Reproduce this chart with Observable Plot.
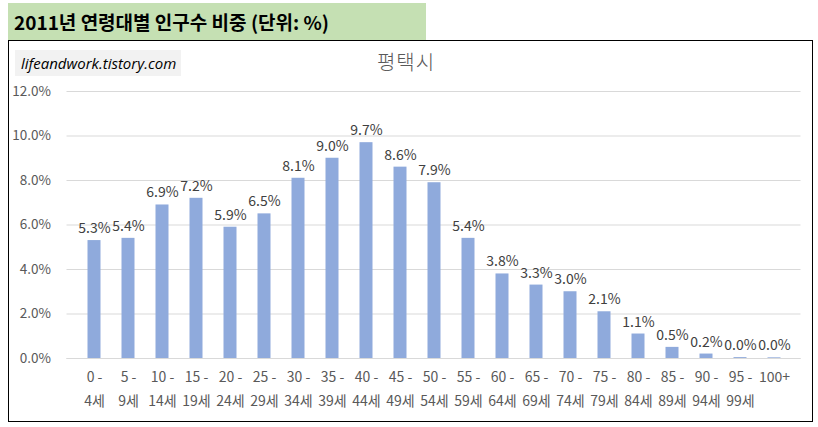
<!DOCTYPE html>
<html><head><meta charset="utf-8">
<script src="https://cdn.jsdelivr.net/npm/d3@7"></script>
<script src="https://cdn.jsdelivr.net/npm/@observablehq/plot@0.6"></script>
<style>
html,body{margin:0;padding:0;background:#fff;}
#wrap{position:relative;width:818px;height:427px;font-family:"Noto Sans CJK KR","Noto Sans",sans-serif;}
#title{position:absolute;left:8px;top:3px;width:418px;height:38px;background:#c5e0b3;font-weight:bold;font-size:19px;line-height:38px;padding-left:6px;box-sizing:border-box;color:#000;}
#frame{position:absolute;left:8px;top:40px;width:805px;height:382px;border:1px solid #000;box-sizing:border-box;}
#wm{position:absolute;left:15px;top:50px;width:166px;height:26px;background:#f2f2f2;font-style:italic;font-size:15px;line-height:26px;padding-left:6px;box-sizing:border-box;color:#000;font-family:"Open Sans","Noto Sans",sans-serif;}
#ctitle{position:absolute;left:0;width:812px;top:48px;text-align:center;font-size:20px;line-height:28px;color:#595959;font-weight:300;letter-spacing:1px;}
#chart{position:absolute;left:8px;top:80px;}
</style></head><body>
<div id="wrap">
<div id="title">2011년 연령대별 인구수 비중 (단위: %)</div>
<div id="frame"></div>
<div id="wm">lifeandwork.tistory.com</div>
<div id="ctitle">평택시</div>
<div id="chart"></div>
</div>
<script>
const ageGroups = ["0 - 4세","5 - 9세","10 - 14세","15 - 19세","20 - 24세","25 - 29세","30 - 34세","35 - 39세","40 - 44세","45 - 49세","50 - 54세","55 - 59세","60 - 64세","65 - 69세","70 - 74세","75 - 79세","80 - 84세","85 - 89세","90 - 94세","95 - 99세","100+"];
const shares = [5.3,5.4,6.9,7.2,5.9,6.5,8.1,9.0,9.7,8.6,7.9,5.4,3.8,3.3,3.0,2.1,1.1,0.5,0.2,0.04,0.03];
const yTicks = [0,2,4,6,8,10,12];

const data = ageGroups.map((g,i)=>({g, v: shares[i]}));
const fmtTick = g => g.includes(" - ") ? g.replace(" - ", " -\n") : g;

const chart = Plot.plot({
  width: 804,
  height: 340,
  marginLeft: 58.5,
  marginRight: 11.5,
  marginTop: 11,
  marginBottom: 62,
  style: {fontFamily: '"Noto Sans CJK KR","Noto Sans",sans-serif', fontSize: "13px", background: "transparent", overflow: "visible"},
  x: {domain: ageGroups, padding: 0, label: null},
  y: {domain: [0,12], label: null},
  marks: [
    Plot.gridY(yTicks, {stroke: "#d9d9d9", strokeOpacity: 1}),
    Plot.axisY({ticks: yTicks, tickSize: 0, tickPadding: 16, tickFormat: d => d.toFixed(1) + "%", fill: "#595959", fontSize: 13.5, label: null}),
    Plot.axisX({tickSize: 0, tickPadding: 6, tickFormat: fmtTick, fill: "#595959", fontSize: 14, lineHeight: 1.72, label: null}),
    Plot.ruleY([0], {stroke: "#d9d9d9"}),
    Plot.barY(data, {x: "g", y: "v", fill: "#8faadc", insetLeft: 10.5, insetRight: 10.5}),
    Plot.text(data, {x: "g", y: "v", text: d => d.v.toFixed(1) + "%", dy: -12, fill: "#404040", fontSize: 14})
  ]
});
document.getElementById("chart").appendChild(chart);
</script>
</body></html>
